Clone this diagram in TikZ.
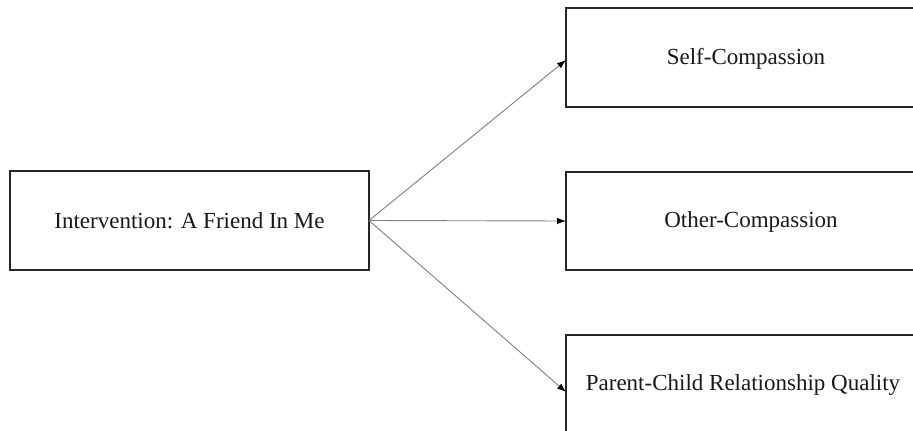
\documentclass[tikz,border=0pt]{standalone}
\usepackage{fontspec}
\setmainfont{Liberation Serif}
\usetikzlibrary{arrows.meta}
\begin{document}
\begin{tikzpicture}[x=1pt,y=-1pt,
  box/.style={draw=black!85,line width=1.3pt},
  lbl/.style={font=\fontsize{23}{27}\selectfont,text=black!90,inner sep=0pt},
  conn/.style={draw=black!50,line width=0.9pt,-{Latex[length=9pt,width=6.5pt,black]}}]
\useasboundingbox (0,0) rectangle (913,431);
\clip (0,0) rectangle (913,431);
\fill[white] (0,0) rectangle (913,431);
\draw[box] (10,171) rectangle (369,270);
\node[lbl] (src) at (189.5,221) {Intervention: A Friend In Me};
\coordinate (srcE) at (369,220.5);
\draw[box] (566,8) rectangle (930,107);
\node[lbl] (t1) at (746,59) {Self-Compassion};
\coordinate (t1W) at (566,60);
\draw[box] (566,172) rectangle (930,270);
\node[lbl] (t2) at (751,222) {Other-Compassion};
\coordinate (t2W) at (566,221);
\draw[box] (566,335) rectangle (930,450);
\node[lbl] (t3) at (743,385) {Parent-Child Relationship Quality};
\coordinate (t3W) at (566,392);
\draw[conn] (srcE) -- (t1W);
\draw[conn] (srcE) -- (t2W);
\draw[conn] (srcE) -- (t3W);
\end{tikzpicture}
\end{document}
